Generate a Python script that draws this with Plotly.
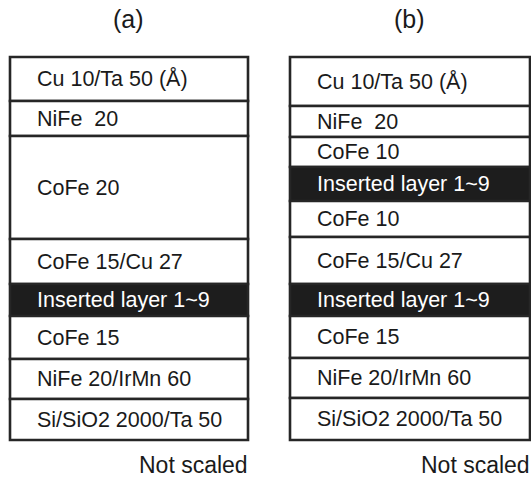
import plotly.graph_objects as go

# Layer stacks, listed top to bottom (thicknesses in Å are in the labels;
# the drawn box heights are schematic, "not scaled").
labels_a = ["Cu 10/Ta 50 (Å)", "NiFe\u00a0 20", "CoFe 20", "CoFe 15/Cu 27",
            "Inserted layer 1~9", "CoFe 15", "NiFe 20/IrMn 60",
            "Si/SiO2 2000/Ta 50"]
heights_a = [44, 35, 103, 45, 32, 43, 40, 41]
dark_a = [False, False, False, False, True, False, False, False]

labels_b = ["Cu 10/Ta 50 (Å)", "NiFe\u00a0 20", "CoFe 10", "Inserted layer 1~9",
            "CoFe 10", "CoFe 15/Cu 27", "Inserted layer 1~9", "CoFe 15",
            "NiFe 20/IrMn 60", "Si/SiO2 2000/Ta 50"]
heights_b = [49, 31, 30, 34, 36, 47, 32, 42, 40, 42]
dark_b = [False, False, False, True, False, False, True, False, False, False]

panel_titles = ["(a)", "(b)"]
footnote = "Not scaled"

FONT = "Liberation Sans, Arial, Helvetica, sans-serif"
LINE = "#262626"
FILL_DARK = "#1d1d1d"
TOP = 57

fig = go.Figure()
annotations = []

panels = [
    (labels_a, heights_a, dark_a, 10, 248),
    (labels_b, heights_b, dark_b, 290, 530),
]

for (labels, heights, dark, left, right), title in zip(panels, panel_titles):
    bases = []
    acc = TOP
    for h in heights:
        bases.append(acc)
        acc += h
    center = (left + right) / 2
    width = right - left
    fig.add_trace(go.Bar(
        x=[center] * len(heights),
        y=heights,
        base=bases,
        width=[width] * len(heights),
        marker=dict(color=[FILL_DARK if d else "white" for d in dark],
                    line=dict(color=LINE, width=2.6)),
        hoverinfo="skip",
        showlegend=False,
    ))
    for lab, b, h, d in zip(labels, bases, heights, dark):
        annotations.append(dict(
            x=left + 25, y=b + h / 2, xref="x", yref="y",
            text=lab, showarrow=False, xanchor="left", yanchor="middle",
            font=dict(family=FONT, size=21.5, color="white" if d else "#1a1a1a"),
        ))
    annotations.append(dict(
        x=center - 1, y=19, xref="x", yref="y", text=title, showarrow=False,
        xanchor="center", yanchor="middle",
        font=dict(family=FONT, size=25, color="#1a1a1a"),
    ))
    annotations.append(dict(
        x=right, y=465, xref="x", yref="y", xshift=2,
        text=footnote, showarrow=False, xanchor="right", yanchor="middle",
        font=dict(family=FONT, size=23, color="#1a1a1a"),
    ))

fig.update_layout(
    width=531, height=482, autosize=False,
    margin=dict(l=0, r=0, t=0, b=0),
    paper_bgcolor="white", plot_bgcolor="white",
    barmode="overlay",
    xaxis=dict(range=[0, 531], visible=False, fixedrange=True),
    yaxis=dict(range=[482, 0], visible=False, fixedrange=True),
    annotations=annotations,
)

fig.write_html("out.html")
